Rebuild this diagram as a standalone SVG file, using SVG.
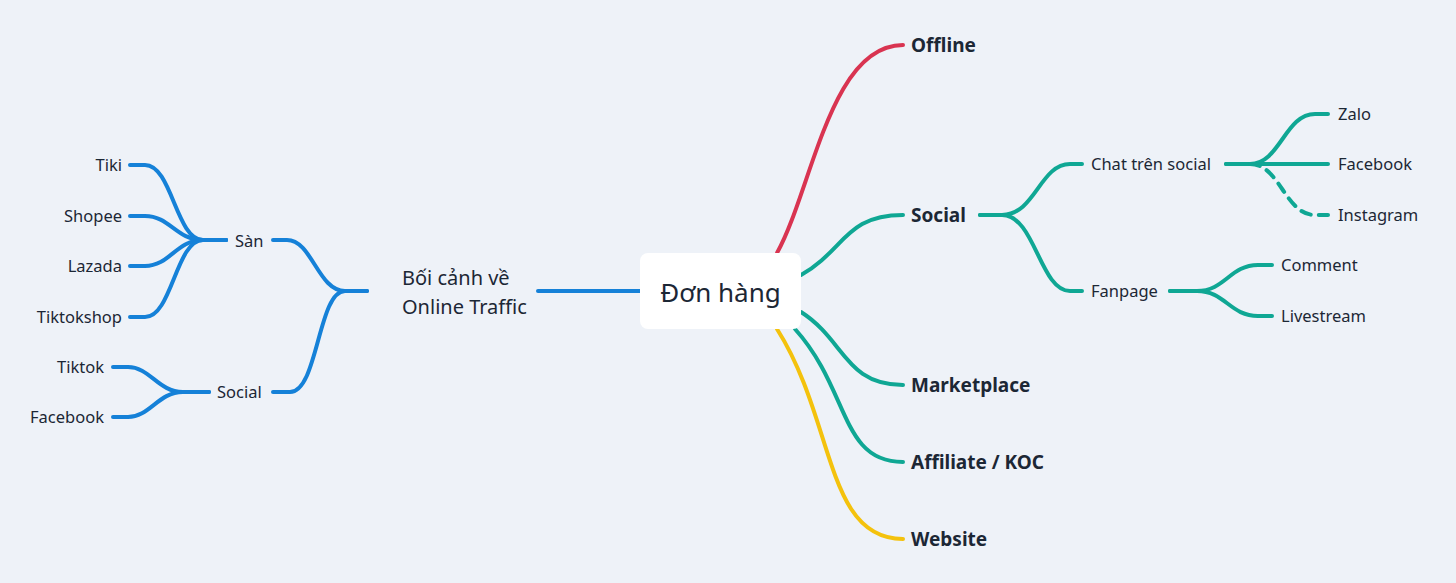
<svg xmlns="http://www.w3.org/2000/svg" width="1456" height="583" viewBox="0 0 1456 583">
<style>
.c{fill:none;stroke-width:4;stroke-linecap:round;stroke-linejoin:round}
.b{stroke:#1581D8}.t{stroke:#0FA794}.r{stroke:#D93451}.y{stroke:#F4C20D}
text{font-family:"Noto Sans","Open Sans",sans-serif;fill:#1C2735}
.s{font-size:16.5px}.m{font-size:20px}.h{font-size:19px;font-weight:bold}
.e{text-anchor:end}
</style>
<rect width="1456" height="583" fill="#EEF2F8"/>
<g id="connectors">
<path class="c b" d="M538,291 L640,291"/>
<path class="c b" d="M367,291 L345,291 C318,291 312,240 287,240 L273,240"/>
<path class="c b" d="M367,291 L345,291 C318,291 318,392 290,392 L273,392"/>
<path class="c b" d="M226,240 L203,240 C176,240 172,165 145,165 L130,165"/>
<path class="c b" d="M226,240 L203,240 C176,240 170,216 145,216 L130,216"/>
<path class="c b" d="M226,240 L203,240 C176,240 170,266 145,266 L130,266"/>
<path class="c b" d="M226,240 L203,240 C176,240 172,317 145,317 L130,317"/>
<path class="c b" d="M209,392 L183,392 C158,392 150,367 128,367 L113,367"/>
<path class="c b" d="M209,392 L183,392 C158,392 150,417 128,417 L113,417"/>
<path class="c r" d="M777,253 C812,190 830,45 903,45"/>
<path class="c t" d="M801,275 C845,250 845,215 903,215"/>
<path class="c t" d="M801,312 C845,340 845,385 903,385"/>
<path class="c t" d="M795,329 C850,390 840,462 903,462"/>
<path class="c y" d="M777,329 C835,420 825,539 903,539"/>
<path class="c t" d="M980,215 L1002,215 C1035,215 1040,164 1070,164 L1082,164"/>
<path class="c t" d="M980,215 L1002,215 C1035,215 1040,291 1070,291 L1082,291"/>
<path class="c t" d="M1226,164 L1250,164 C1280,164 1285,114 1315,114 L1328,114"/>
<path class="c t" d="M1226,164 L1328,164"/>
<path class="c t" d="M1250,164 C1280,164 1285,215 1315,215 L1328,215" stroke-dasharray="10,8"/>
<path class="c t" d="M1170,291 L1197,291 C1225,291 1230,265 1258,265 L1272,265"/>
<path class="c t" d="M1170,291 L1197,291 C1225,291 1230,316 1258,316 L1272,316"/>
</g>
<g id="center"><rect x="640" y="253" width="161" height="76" rx="8" fill="#FFFFFF"/><text x="720.5" y="302" font-size="26" text-anchor="middle">Đơn hàng</text></g>
<g id="boi-canh"><text class="m" x="402" y="285">Bối cảnh về</text><text class="m" x="402" y="314">Online Traffic</text></g>
<g id="san"><text class="s" x="235" y="247">Sàn</text></g>
<g id="social-left"><text class="s" x="217" y="398">Social</text></g>
<g id="tiki"><text class="s e" x="122" y="171">Tiki</text></g>
<g id="shopee"><text class="s e" x="122" y="222">Shopee</text></g>
<g id="lazada"><text class="s e" x="122" y="272">Lazada</text></g>
<g id="tiktokshop"><text class="s e" x="122" y="323">Tiktokshop</text></g>
<g id="tiktok"><text class="s e" x="104" y="373">Tiktok</text></g>
<g id="facebook-left"><text class="s e" x="104" y="423">Facebook</text></g>
<g id="offline"><text class="h" x="911" y="52">Offline</text></g>
<g id="social-right"><text class="h" x="911" y="222">Social</text></g>
<g id="marketplace"><text class="h" x="911" y="392">Marketplace</text></g>
<g id="affiliate"><text class="h" x="911" y="469">Affiliate / KOC</text></g>
<g id="website"><text class="h" x="911" y="546">Website</text></g>
<g id="chat"><text class="s" x="1091" y="170">Chat trên social</text></g>
<g id="fanpage"><text class="s" x="1091" y="297">Fanpage</text></g>
<g id="zalo"><text class="s" x="1338" y="120">Zalo</text></g>
<g id="facebook-right"><text class="s" x="1338" y="170">Facebook</text></g>
<g id="instagram"><text class="s" x="1338" y="221">Instagram</text></g>
<g id="comment"><text class="s" x="1281" y="271">Comment</text></g>
<g id="livestream"><text class="s" x="1281" y="322">Livestream</text></g>
</svg>
